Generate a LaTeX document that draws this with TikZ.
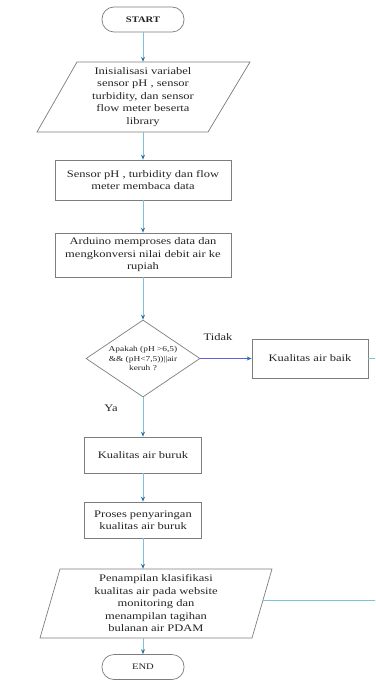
\documentclass[tikz,border=0pt]{standalone}
\usepackage{fontspec}
\setmainfont[FakeStretch=1.25]{Liberation Serif}
\usetikzlibrary{shapes.geometric,arrows.meta}
\definecolor{lineC}{RGB}{125,195,215}
\definecolor{arrC}{RGB}{45,115,165}
\definecolor{boxC}{RGB}{125,125,125}
\definecolor{txtC}{RGB}{35,35,35}
\definecolor{tidakC}{RGB}{95,95,225}
\begin{document}
\begin{tikzpicture}[x=1pt,y=-1pt,
  every node/.style={text=txtC, font=\fontsize{10}{12.5}\selectfont, align=center, inner sep=0pt},
  procbox/.style={draw=boxC, line width=0.7pt, minimum width=#1},
  term/.style={draw=boxC, line width=0.7pt, rounded corners=12pt, minimum width=82pt, minimum height=25pt},
  dec/.style={draw=boxC, line width=0.7pt, diamond, aspect=1.48, minimum width=114pt, minimum height=77pt, font=\fontsize{7.5}{9.5}\selectfont},
  ioshape/.style={draw=boxC, line width=0.7pt},
  flow/.style={draw=lineC, line width=0.8pt, -{Stealth[length=5pt,width=4pt,color=arrC]}},
  tidakflow/.style={draw=tidakC, line width=0.8pt, -{Stealth[length=5pt,width=4pt,color=arrC]}},
  backflow/.style={draw=lineC, line width=0.8pt}
]
\useasboundingbox (0,0) rectangle (375,692);
\clip (0,0) rectangle (375,692);

\node[term, font=\fontsize{8.5}{10}\selectfont\bfseries] (start) at (143,19.5) {START};

\draw[ioshape] (77,62) -- (250,62) -- (208,132) -- (37,132) -- cycle;
\node[minimum height=70pt] (p1) at (143,97) {Inisialisasi variabel\\sensor pH , sensor\\turbidity, dan sensor\\flow meter beserta\\library};

\node[procbox=176pt, minimum height=40pt] (b2) at (143,180) {Sensor pH , turbidity dan flow\\meter membaca data};
\node[procbox=176pt, minimum height=44pt] (b3) at (143,255) {Arduino memproses data dan\\mengkonversi nilai debit air ke\\rupiah};

\node[dec] (d) at (143,358.5) {Apakah (pH >6,5)\\\&\& (pH<7,5))||air\\keruh ?};

\node[procbox=116pt, minimum height=39pt] (baik) at (310,358.5) {Kualitas air baik};
\node[procbox=117pt, minimum height=36pt] (buruk) at (143,455) {Kualitas air buruk};
\node[procbox=117pt, minimum height=36pt] (proses) at (143,520) {Proses penyaringan\\kualitas air buruk};

\draw[ioshape] (60,569) -- (272,569) -- (252,638) -- (40,638) -- cycle;
\node[minimum height=69pt] (p2) at (156,603.5) {Penampilan klasifikasi\\kualitas air pada website\\monitoring dan\\menampilan tagihan\\bulanan air PDAM};
\coordinate (p2r) at (263,600);

\node[term, font=\fontsize{8.5}{10}\selectfont] (end) at (143,667) {END};

\node (tidak) at (218,337) {Tidak};
\node (ya) at (111,408) {Ya};

\draw[flow] (start.south) -- (p1.north);
\draw[flow] (p1.south) -- (b2.north);
\draw[flow] (b2.south) -- (b3.north);
\draw[flow] (b3.south) -- (d.north);
\draw[tidakflow] (d.east) -- (baik.west);
\draw[flow] (d.south) -- (buruk.north);
\draw[flow] (buruk.south) -- (proses.north);
\draw[flow] (proses.south) -- (proses.south |- p2.north);
\draw[flow] (end.north |- p2.south) -- (end.north);
\draw[backflow] (baik.east) -- ++(20,0) |- (p2r);
\end{tikzpicture}
\end{document}
